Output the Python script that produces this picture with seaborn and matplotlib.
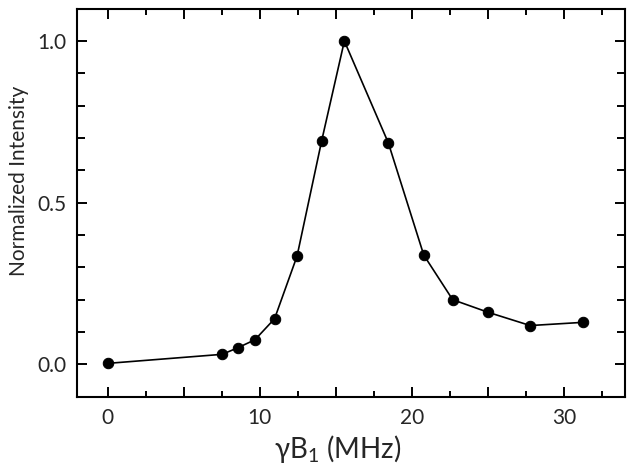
import numpy as np
import pandas as pd
import seaborn as sns
import matplotlib.pyplot as plt
from matplotlib.ticker import MultipleLocator, FuncFormatter

# data
gamma_b1 = [0.0, 7.53, 8.54, 9.68, 10.97, 12.45, 14.07, 15.56, 18.45, 20.78, 22.68, 25.01, 27.78, 31.28]
intensity = [0.003, 0.031, 0.051, 0.076, 0.141, 0.335, 0.692, 1.0, 0.685, 0.338, 0.200, 0.161, 0.120, 0.130]

df = pd.DataFrame({'B1': gamma_b1, 'I': intensity})

sns.set_style('ticks')
plt.rcParams['font.family'] = ['Lato', 'DejaVu Sans']
plt.rcParams['mathtext.fontset'] = 'custom'
plt.rcParams['mathtext.rm'] = 'Lato'
plt.rcParams['mathtext.it'] = 'Lato'

fig = plt.figure(figsize=(6.35, 4.7), dpi=100)
ax = fig.add_axes([0.1217, 0.156, 0.8623, 0.8255])

sns.lineplot(data=df, x='B1', y='I', ax=ax, color='black', linewidth=1.2,
             marker='o', markersize=7.5, markeredgecolor='black', markerfacecolor='black')

ax.set_xlim(-2, 34)
ax.set_ylim(-0.1, 1.1)

ax.xaxis.set_major_locator(MultipleLocator(5))
ax.xaxis.set_minor_locator(MultipleLocator(2.5))
ax.xaxis.set_major_formatter(FuncFormatter(lambda v, p: '%d' % v if round(v) % 10 == 0 else ''))
ax.yaxis.set_major_locator(MultipleLocator(0.5))
ax.yaxis.set_minor_locator(MultipleLocator(0.1))
ax.yaxis.set_major_formatter(FuncFormatter(lambda v, p: '%.1f' % v))

ax.tick_params(which='both', direction='in', top=True, right=True, width=1.4, labelsize=15, color='black')
ax.tick_params(which='major', length=7, pad=8)
ax.tick_params(which='minor', length=4)
ax.tick_params(axis='y', which='minor', length=6)

for s in ax.spines.values():
    s.set_linewidth(1.5)
    s.set_color('black')

ax.set_xlabel(r'γB$_1$ (MHz)', fontsize=20, labelpad=4)
ax.set_ylabel('Normalized Intensity', fontsize=15, labelpad=6)
ax.xaxis.label.set_x(0.475)
ax.yaxis.label.set_y(0.555)

fig.savefig('out.png', dpi=100)
